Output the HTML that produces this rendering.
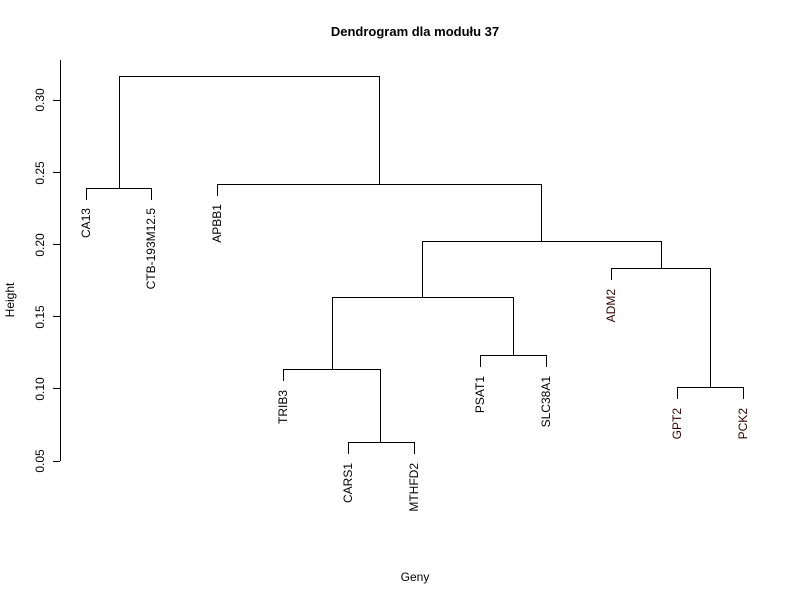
<!DOCTYPE html>
<html><head><style>body{margin:0;background:#fff}svg{display:block}</style></head><body>
<svg width="800" height="600" xmlns="http://www.w3.org/2000/svg" font-family="Liberation Sans, Arial, sans-serif">
<rect width="800" height="600" fill="#fff"/>
<text x="415" y="36" font-size="13" font-weight="bold" text-anchor="middle">Dendrogram dla modułu 37</text>
<text x="415" y="581" font-size="12" text-anchor="middle">Geny</text>
<text transform="translate(14,300) rotate(-90)" font-size="12" text-anchor="middle">Height</text>
<g stroke="#000" stroke-width="1" fill="none">
<path d="M60.5 60V461M53 100.5H60M53 172.5H60M53 244.5H60M53 316.5H60M53 388.5H60M53 461.5H60"/>
<path d="M119.5 188V76.5H379.5V184"/>
<path d="M86.5 200V188.5H151.5V200"/>
<path d="M217.5 196V184.5H541.5V241"/>
<path d="M422.5 297V241.5H661.5V268"/>
<path d="M332.5 369V297.5H513.5V355"/>
<path d="M283.5 381V369.5H380.5V442"/>
<path d="M348.5 454V442.5H414.5V454"/>
<path d="M480.5 367V355.5H546.5V367"/>
<path d="M611.5 280V268.5H710.5V387"/>
<path d="M677.5 399V387.5H743.5V399"/>
</g>
<g font-size="12" text-anchor="middle">
<text transform="translate(44,100) rotate(-90)">0.30</text>
<text transform="translate(44,173) rotate(-90)">0.25</text>
<text transform="translate(44,245) rotate(-90)">0.20</text>
<text transform="translate(44,317) rotate(-90)">0.15</text>
<text transform="translate(44,389) rotate(-90)">0.10</text>
<text transform="translate(44,461) rotate(-90)">0.05</text>
</g>
<g font-size="12" text-anchor="end">
<text transform="translate(90,208) rotate(-90)">CA13</text>
<text transform="translate(155,208) rotate(-90)">CTB-193M12.5</text>
<text transform="translate(221,204) rotate(-90)">APBB1</text>
<text transform="translate(287,390) rotate(-90)">TRIB3</text>
<text transform="translate(352,463) rotate(-90)">CARS1</text>
<text transform="translate(418,463) rotate(-90)">MTHFD2</text>
<text transform="translate(484,376) rotate(-90)">PSAT1</text>
<text transform="translate(550,376) rotate(-90)">SLC38A1</text>
<text transform="translate(615,289) rotate(-90)" fill="#300">ADM2</text>
<text transform="translate(681,408) rotate(-90)" fill="#300">GPT2</text>
<text transform="translate(747,408) rotate(-90)" fill="#300">PCK2</text>
</g>
</svg>
</body></html>
